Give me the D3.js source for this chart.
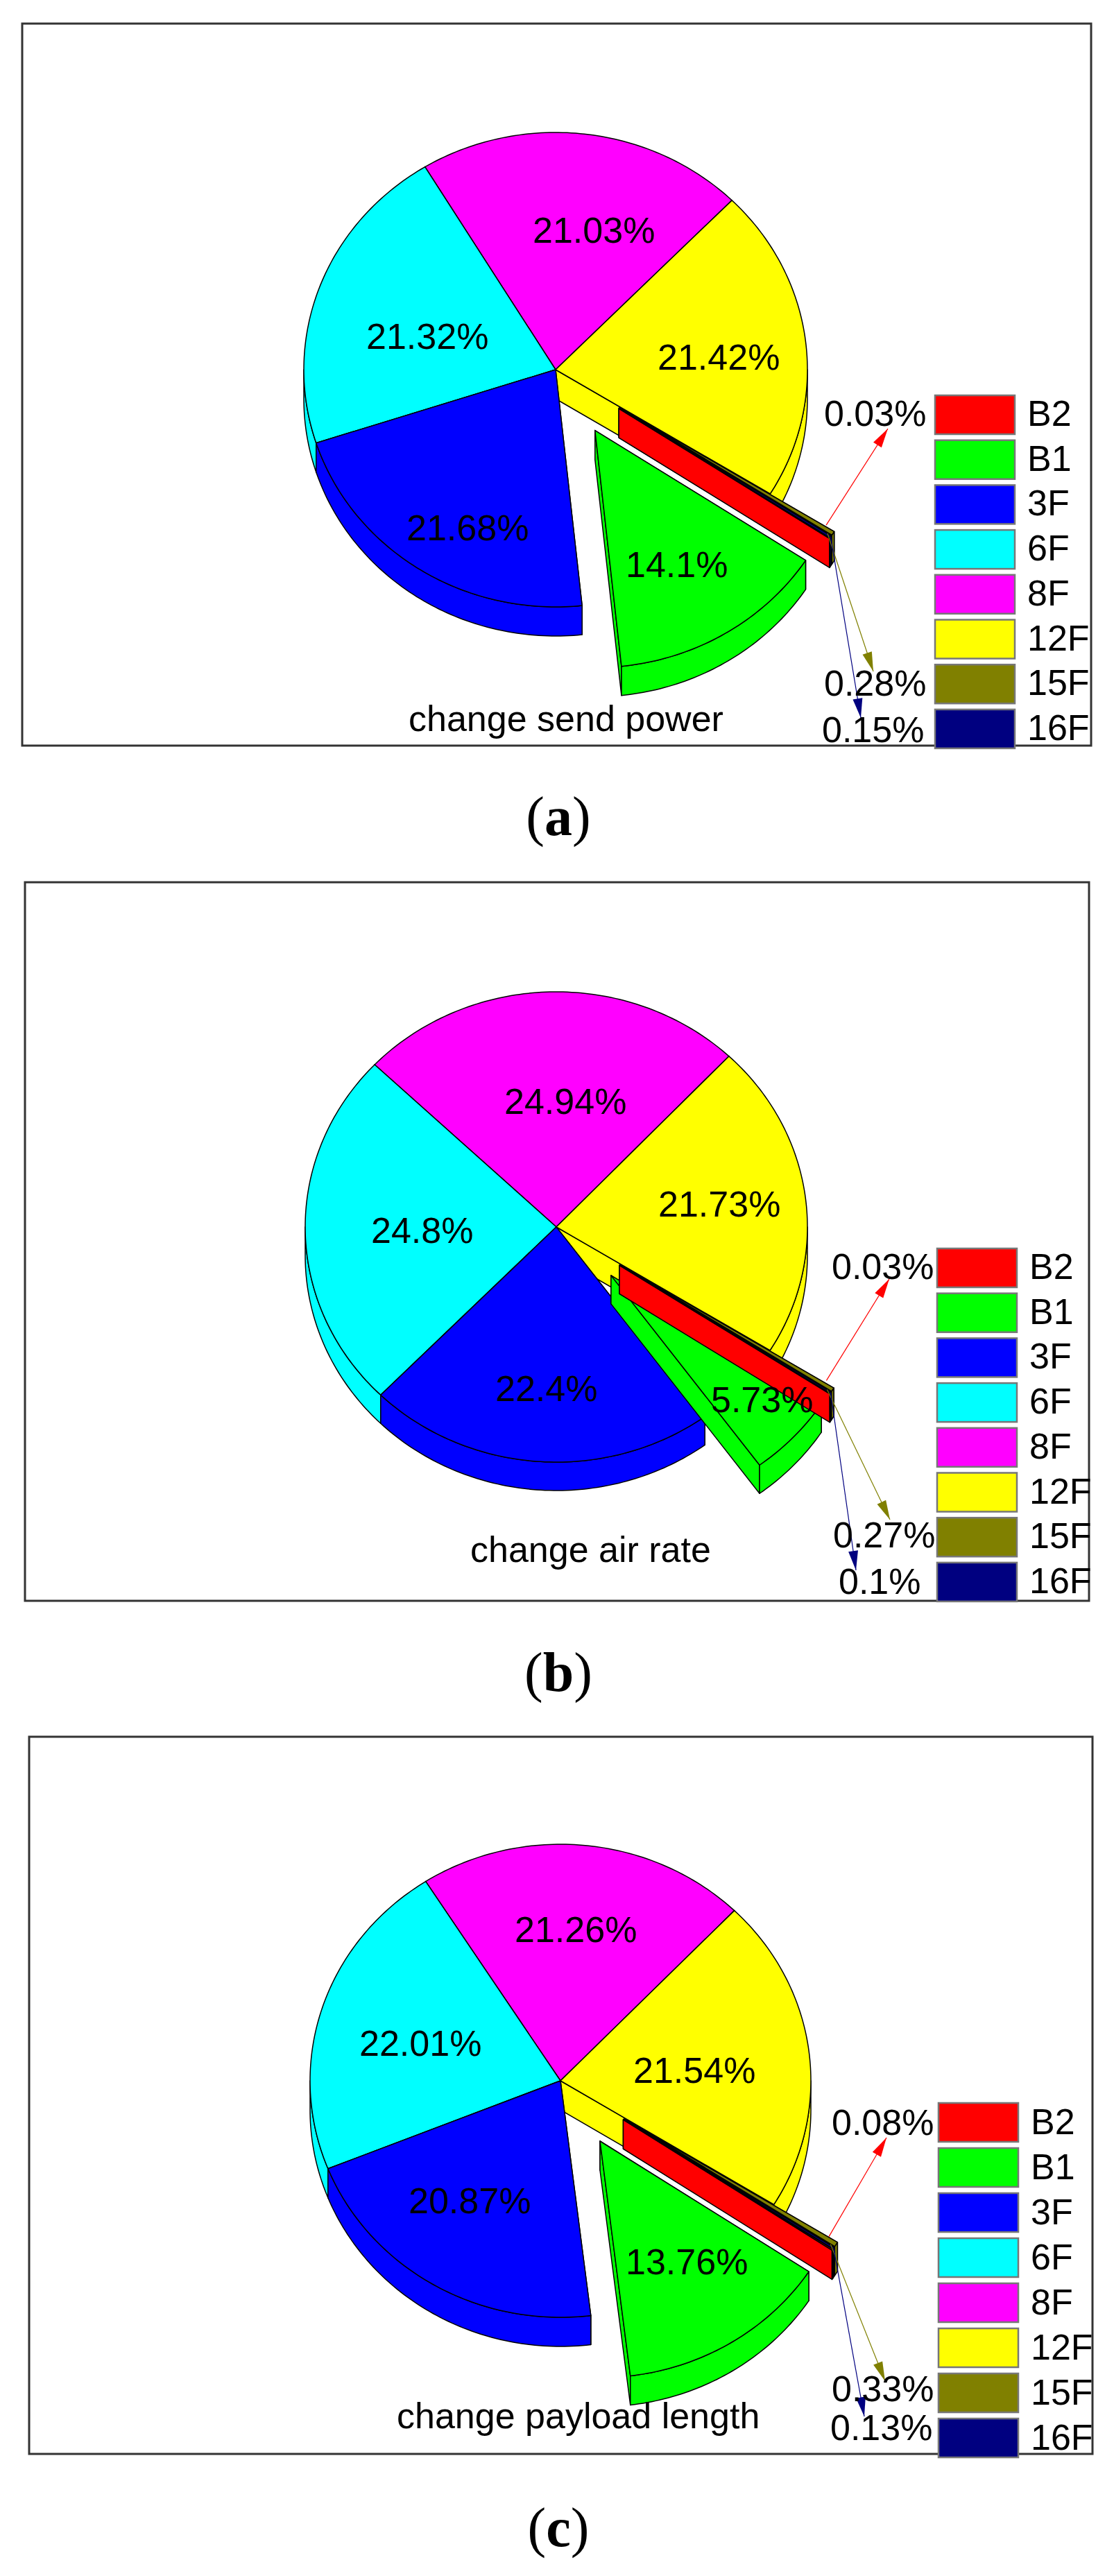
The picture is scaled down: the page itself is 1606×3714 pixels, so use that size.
<!DOCTYPE html>
<html>
<head>
<meta charset="utf-8">
<style>html,body{margin:0;padding:0;background:#fff}svg{display:block}text{font-family:"Liberation Sans",Arial,sans-serif;fill:#000}</style>
<script src="https://cdn.jsdelivr.net/npm/d3@7/dist/d3.min.js"></script>
</head>
<body>
<script>
// Data
const floors = ['B2', 'B1', '3F', '6F', '8F', '12F', '15F', '16F'];
const floorColors = ['#ff0000', '#00ff00', '#0000ff', '#00ffff', '#ff00ff', '#ffff00', '#808000', '#000080'];
const sendPower = [0.03, 14.1, 21.68, 21.32, 21.03, 21.42, 0.28, 0.15];
const airRate = [0.03, 5.73, 22.4, 24.8, 24.94, 21.73, 0.27, 0.1];
const payloadLength = [0.08, 13.76, 20.87, 22.01, 21.26, 21.54, 0.33, 0.13];
const explodedFloors = ['B2', 'B1', '15F', '16F'];
const drawOrder = ['8F', '12F', '6F', '3F', 'B1', '15F', '16F', 'B2'];

// Layout of each panel
const panels = [
  { values: sendPower, title: 'change send power', caption: 'a',
    frame: [32, 34, 1573, 1075], c: [801, 533], rx: 363, ry: 342, depth: 42, start: 123.1,
    legend: [1348, 570, 64.7, 614], captionY: 1204,
    titlePos: [589, 1054],
    labels: { B2: [1188, 614], B1: [902, 832], '3F': [586, 779], '6F': [528, 503], '8F': [768, 350], '12F': [948, 533], '15F': [1188, 1003], '16F': [1185, 1070] },
    arrows: { B2: [1280, 618], '15F': [1259, 968], '16F': [1241, 1035] } },
  { values: airRate, title: 'change air rate', caption: 'b',
    frame: [36, 1272, 1570, 2308], c: [802, 1769], rx: 362, ry: 339, depth: 41, start: 123,
    legend: [1351, 1800, 64.7, 1844], captionY: 2438,
    titlePos: [678, 2252],
    labels: { B2: [1199, 1844], B1: [1025, 2036], '3F': [714, 2020], '6F': [535, 1792], '8F': [727, 1606], '12F': [949, 1754], '15F': [1201, 2231], '16F': [1209, 2298] },
    arrows: { B2: [1282, 1844], '15F': [1283, 2191], '16F': [1234, 2264] } },
  { values: payloadLength, title: 'change payload length', caption: 'c',
    frame: [42, 2504, 1575, 3538], c: [808, 3000], rx: 361, ry: 341, depth: 42, start: 123.2,
    legend: [1353, 3032, 65, 3077], captionY: 3671,
    titlePos: [572, 3501],
    labels: { B2: [1199, 3078], B1: [902, 3279], '3F': [589, 3191], '6F': [518, 2964], '8F': [742, 2800], '12F': [913, 3003], '15F': [1199, 3462], '16F': [1197, 3518] },
    arrows: { B2: [1278, 3082], '15F': [1276, 3433], '16F': [1246, 3484] } }
];

const EXPLODE = 0.3, SWATCH_W = 115, SWATCH_H = 56, FONT = 52;
const leaderOffset = { B2: [-5, -19], '15F': [-8, 0], '16F': [0, 0] };
const color = d3.scaleOrdinal(floors, floorColors);
const svg = d3.select('body').append('svg').attr('width', 1606).attr('height', 3714);
const line = d3.line();
const TAU = 2 * Math.PI;

panels.forEach(p => {
  const g = svg.append('g');
  const [x0, y0, x1, y1] = p.frame;
  g.append('rect').attr('x', x0).attr('y', y0).attr('width', x1 - x0).attr('height', y1 - y0)
    .attr('fill', '#fff').attr('stroke', '#333').attr('stroke-width', 3);

  const x = d3.scaleLinear([-1, 1], [p.c[0] - p.rx, p.c[0] + p.rx]);
  const y = d3.scaleLinear([-1, 1], [p.c[1] - p.ry, p.c[1] + p.ry]);
  const s = p.start * Math.PI / 180;
  const arcs = d3.pie().sort(null).startAngle(s).endAngle(s + TAU)(p.values);
  const byFloor = new Map(arcs.map((a, i) => [floors[i], a]));

  const pt = (d, f, a, r, dz) => {
    const mid = (d.startAngle + d.endAngle) / 2;
    const e = explodedFloors.includes(f) ? EXPLODE : 0;
    return [x(r * Math.sin(a) + e * Math.sin(mid)), y(-r * Math.cos(a) - e * Math.cos(mid)) + dz];
  };
  const samples = (a0, a1) => {
    const n = Math.max(2, Math.ceil((a1 - a0) * 180 / Math.PI));
    return d3.range(n + 1).map(i => a0 + (a1 - a0) * i / n);
  };

  drawOrder.forEach(f => {
    const d = byFloor.get(f), fill = color(f);
    const style = sel => sel.attr('fill', fill).attr('stroke', '#000').attr('stroke-width', 1.5).attr('stroke-linejoin', 'round');
    // cut-edge walls
    [d.startAngle, d.endAngle].forEach(a => {
      const quad = [pt(d, f, a, 0, 0), pt(d, f, a, 1, 0), pt(d, f, a, 1, p.depth), pt(d, f, a, 0, p.depth)];
      g.append('path').attr('d', line(quad) + 'Z').call(style);
    });
    // outer rim, lower half only
    [[Math.PI / 2, 3 * Math.PI / 2], [Math.PI / 2 + TAU, 3 * Math.PI / 2 + TAU]].forEach(([lo, hi]) => {
      const a0 = Math.max(d.startAngle, lo), a1 = Math.min(d.endAngle, hi);
      if (a1 > a0) {
        const as = samples(a0, a1);
        const rim = as.map(a => pt(d, f, a, 1, 0)).concat(as.slice().reverse().map(a => pt(d, f, a, 1, p.depth)));
        g.append('path').attr('d', line(rim) + 'Z').call(style);
      }
    });
    // top face
    const top = [pt(d, f, d.startAngle, 0, 0)].concat(samples(d.startAngle, d.endAngle).map(a => pt(d, f, a, 1, 0)));
    g.append('path').attr('class', 'top').attr('d', line(top) + 'Z').call(style);
  });

  // leader arrows for the thin slices
  Object.keys(p.arrows).forEach(f => {
    const d = byFloor.get(f), mid = (d.startAngle + d.endAngle) / 2;
    const tip = pt(d, f, mid, 1, 0), off = leaderOffset[f];
    const from = [tip[0] + off[0], tip[1] + off[1]], to = p.arrows[f];
    const len = Math.hypot(to[0] - from[0], to[1] - from[1]);
    const ux = (to[0] - from[0]) / len, uy = (to[1] - from[1]) / len;
    g.append('path').attr('d', line([from, to])).attr('stroke', color(f)).attr('stroke-width', 1.2).attr('fill', 'none');
    const L = 28, W = 7;
    const head = [to, [to[0] - ux * L - uy * W, to[1] - uy * L + ux * W], [to[0] - ux * L + uy * W, to[1] - uy * L - ux * W]];
    g.append('path').attr('d', line(head) + 'Z').attr('fill', color(f));
  });

  // value labels
  floors.forEach((f, i) => {
    g.append('text').attr('x', p.labels[f][0]).attr('y', p.labels[f][1]).attr('font-size', FONT).text(p.values[i] + '%');
  });
  g.append('text').attr('x', p.titlePos[0]).attr('y', p.titlePos[1]).attr('font-size', FONT).text(p.title);

  // legend
  const [lx, ly, step, base] = p.legend;
  floors.forEach((f, i) => {
    g.append('rect').attr('x', lx).attr('y', ly + i * step).attr('width', SWATCH_W).attr('height', SWATCH_H)
      .attr('fill', color(f)).attr('stroke', '#777').attr('stroke-width', 2.5);
    g.append('text').attr('x', lx + 133).attr('y', base + i * step).attr('font-size', FONT).text(f);
  });

  // caption
  const cap = g.append('text').attr('x', 805).attr('y', p.captionY).attr('text-anchor', 'middle')
    .attr('font-size', 80).style('font-family', '"Liberation Serif",serif');
  cap.append('tspan').text('(');
  cap.append('tspan').attr('font-weight', 'bold').text(p.caption);
  cap.append('tspan').text(')');
});
</script>
</body>
</html>
